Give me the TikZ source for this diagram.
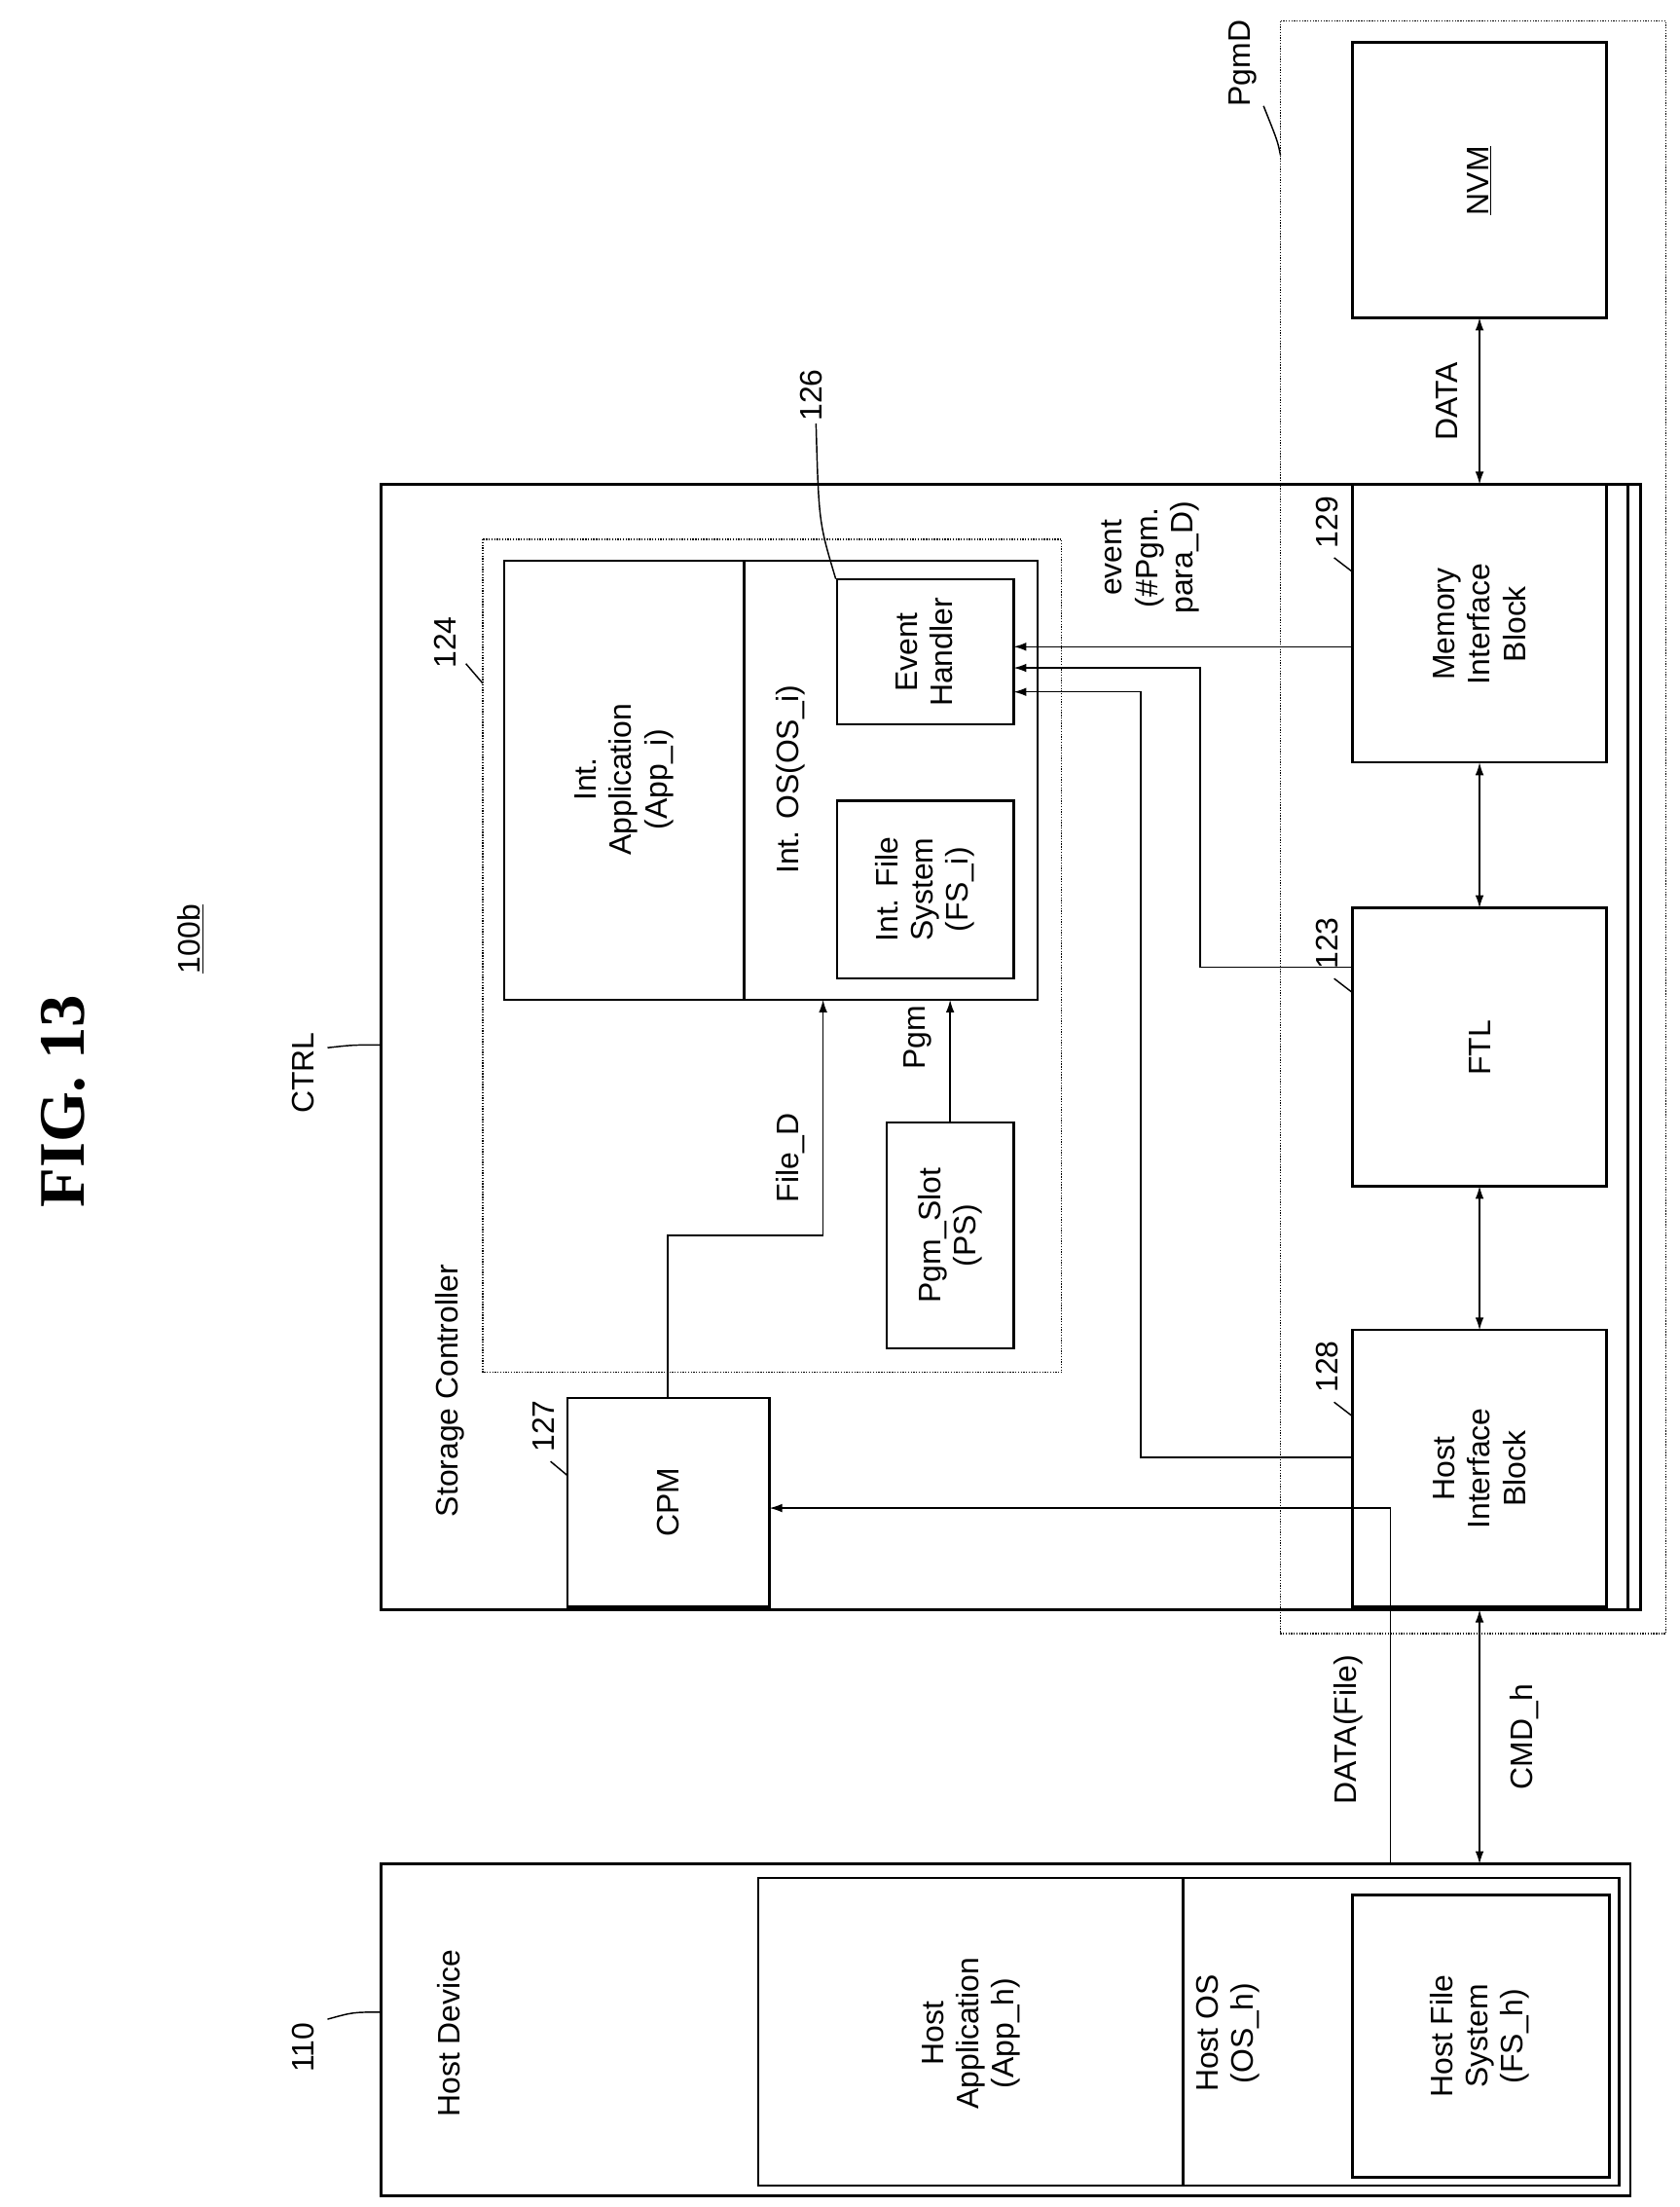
\documentclass[tikz,border=0pt]{standalone}
\usepackage{fontspec}
\setmainfont{Liberation Sans}
\newfontfamily\titlefont{Liberation Serif}
\usetikzlibrary{arrows.meta}
\begin{document}
\begin{tikzpicture}[x=1pt,y=-1pt,
 box/.style={draw,line width=1.6pt},
 dbox/.style={draw,densely dotted,line width=0.9pt},
 txt/.style={rotate=90,align=center,font=\fontsize{22}{25}\selectfont},
 ln/.style={line width=1pt},
 arr/.style={line width=1pt,-{Latex[length=9pt,width=6pt]}},
 darr/.style={line width=1pt,{Latex[length=9pt,width=6pt]}-{Latex[length=9pt,width=6pt]}}]
\useasboundingbox (0,0) rectangle (1190,1563);
\node[rotate=90,font=\titlefont\bfseries\fontsize{46}{50}\selectfont] (title) at (45,780) {FIG. 13};
\node[txt] (lbl100) at (135,665) {\underline{100b}};
% host
\draw[box] (270,1320) rectangle (1155,1555);
\draw[box] (537,1330) rectangle (1147,1548);
\draw[box] (838,1330) -- (838,1548);
\draw[box] (958,1342) rectangle (1140,1542);
\node[txt] (hd) at (318,1440) {Host Device};
\node[txt] (happ) at (688,1440) {Host\\Application\\(App\_h)};
\node[txt] (hos) at (870,1440) {Host OS\\(OS\_h)};
\node[txt] (hfs) at (1048,1442) {Host File\\System\\(FS\_h)};
\node[txt] (l110) at (215,1450) {110};
\draw[ln] (232,1430) .. controls (250,1425) .. (270,1425);
% controller
\draw[box] (270,343) rectangle (1162,1140);
\draw[box] (1153,343) -- (1153,1140);
\node[txt,anchor=north] (sc) at (305,985) {Storage Controller};
\node[txt] (ctrl) at (215,760) {CTRL};
\draw[ln] (232,742) .. controls (250,740) .. (270,740);
\draw[dbox] (342,382) rectangle (752,972);
\node[txt] (l124) at (315,455) {124};
\draw[ln] (330,470) -- (342,484);
\draw[box] (357,397) rectangle (735,708);
\draw[box] (527,397) -- (527,708);
\draw[box] (593,410) rectangle (718,513);
\draw[box] (593,567) rectangle (718,693);
\node[txt] (iapp) at (442,552) {Int.\\Application\\(App\_i)};
\node[txt] (ios) at (560,552) {Int. OS(OS\_i)};
\node[txt] (eh) at (655,462) {Event\\Handler};
\node[txt] (ifs) at (655,630) {Int. File\\System\\(FS\_i)};
\draw[box] (628,795) rectangle (718,955);
\node[txt] (ps) at (673,875) {Pgm\_Slot\\(PS)};
\draw[box] (402,990) rectangle (545,1138);
\node[txt] (cpm) at (473,1064) {CPM};
\node[txt] (l127) at (385,1010) {127};
\draw[ln] (390,1035) -- (402,1045);
\node[txt] (l126) at (575,280) {126};
\draw[ln] (578,300) .. controls (580,370) .. (592,410);
% blocks
\draw[box] (958,30) rectangle (1138,225);
\node[txt] (nvm) at (1048,128) {\underline{NVM}};
\draw[box] (958,343) rectangle (1138,540);
\node[txt] (mib) at (1048,442) {Memory\\Interface\\Block};
\draw[box] (958,643) rectangle (1138,840);
\node[txt] (ftl) at (1048,742) {FTL};
\draw[box] (958,942) rectangle (1138,1138);
\node[txt] (hib) at (1048,1040) {Host\\Interface\\Block};
\draw[dbox] (907,15) rectangle (1180,1157);
\node[txt] (pgmd) at (880,45) {PgmD};
\draw[ln] (895,75) .. controls (905,100) .. (907,110);
\node[txt] (l129) at (940,370) {129};
\draw[ln] (945,395) -- (958,405);
\node[txt] (l123) at (940,668) {123};
\draw[ln] (945,693) -- (958,703);
\node[txt] (l128) at (940,968) {128};
\draw[ln] (945,993) -- (958,1003);
\draw[darr] (1048,225) -- (1048,343);
\node[txt] (data) at (1025,284) {DATA};
\draw[darr] (1048,540) -- (1048,643);
\draw[darr] (1048,840) -- (1048,942);
\draw[darr] (1048,1140) -- (1048,1320);
\node[txt] (cmdh) at (1080,1230) {CMD\_h};
\node[txt] (dataf) at (955,1225) {DATA(File)};
\draw[arr] (985,1320) -- (985,1068) -- (545,1068);
\draw[arr] (473,990) -- (473,875) -- (583,875) -- (583,708);
\node[txt] (filed) at (560,820) {File\_D};
\draw[arr] (673,795) -- (673,708);
\node[txt] (pgm) at (650,735) {Pgm};
\draw[arr] (958,458) -- (718,458);
\node[txt] (ev) at (815,395) {event\\(\#Pgm.\\para\_D)};
\draw[arr] (958,685) -- (850,685) -- (850,473) -- (718,473);
\draw[arr] (958,1032) -- (808,1032) -- (808,490) -- (718,490);
\end{tikzpicture}
\end{document}
